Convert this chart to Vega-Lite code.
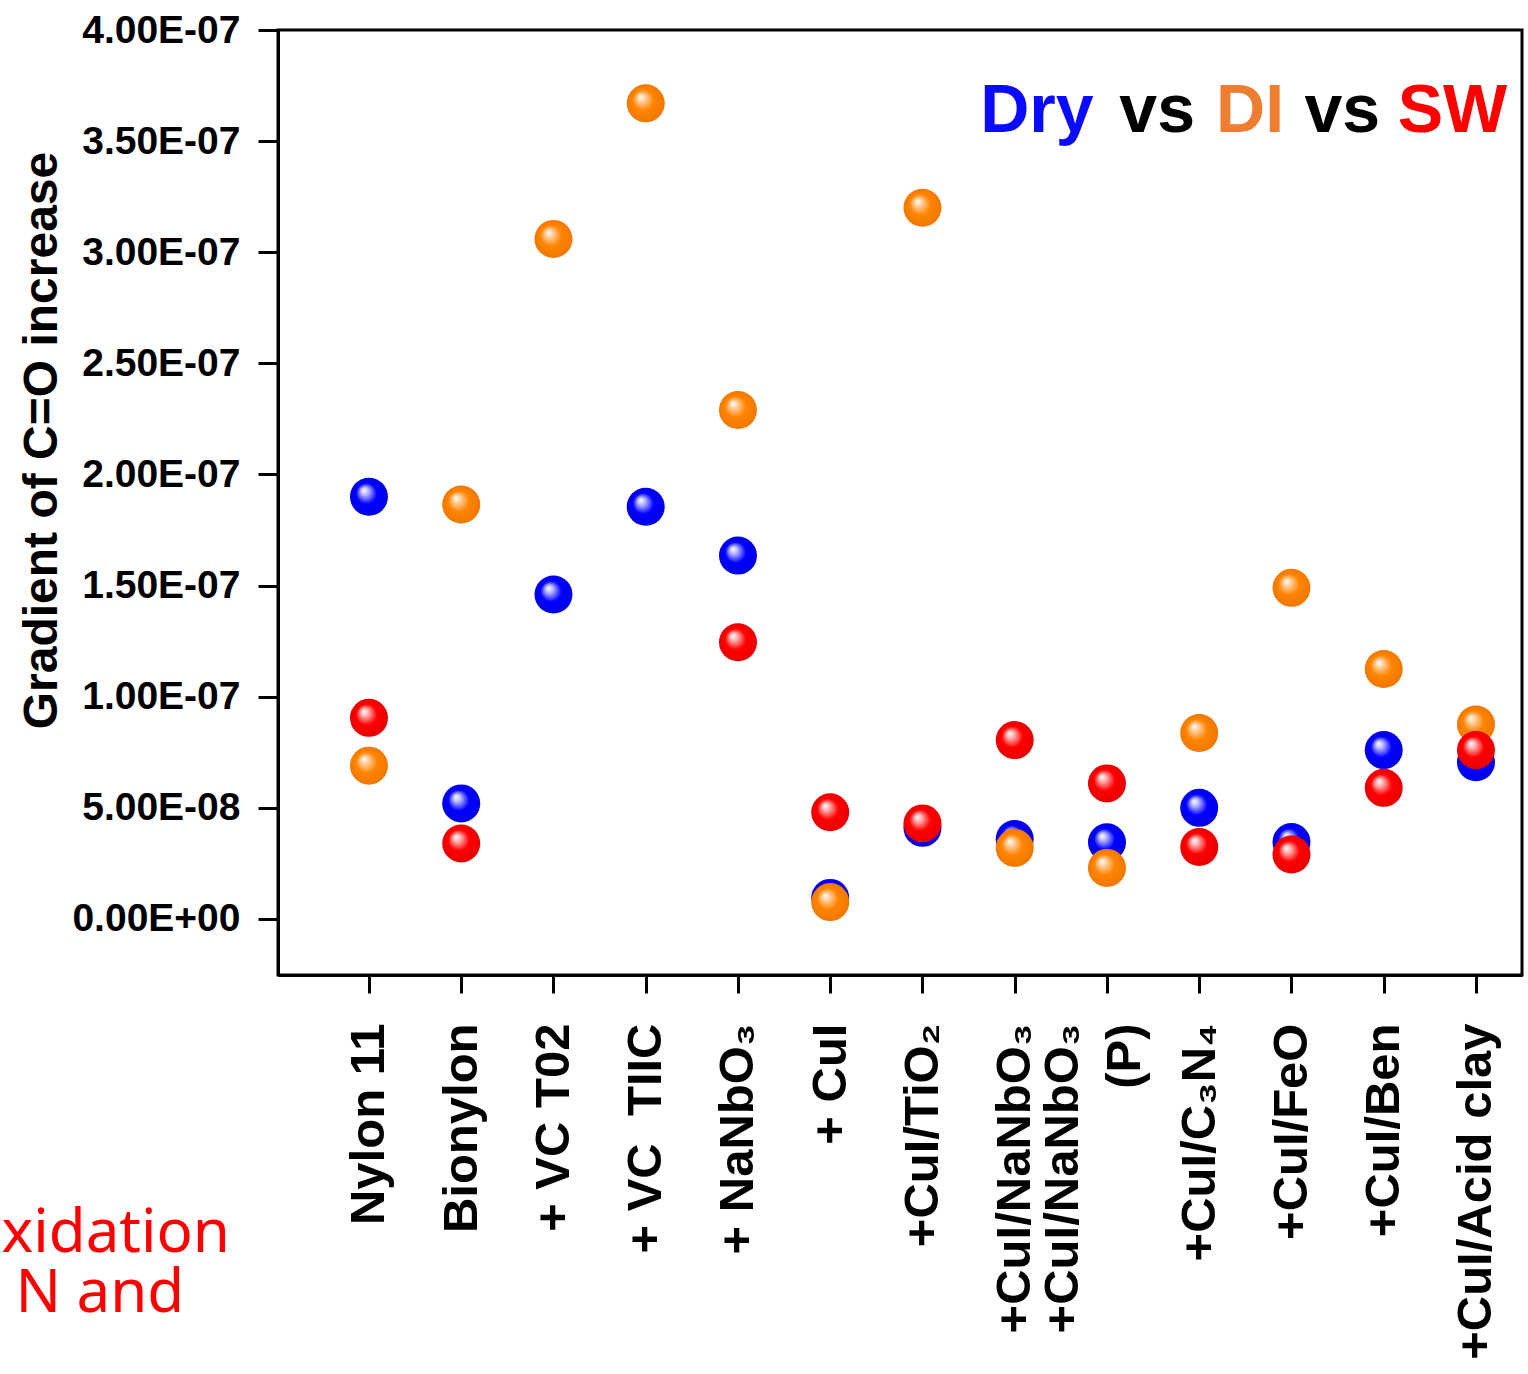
{
  "$schema": "https://vega.github.io/schema/vega-lite/v6.json",
  "autosize": {"type": "none"},
  "padding": {"left": 278, "top": 30, "right": 6, "bottom": 399},
  "width": 1244,
  "height": 945,
  "background": "white",
  "config": {
    "view": {"stroke": "black", "strokeWidth": 3},
    "axis": {
      "labelFont": "Liberation Sans",
      "labelFontWeight": "bold",
      "labelColor": "black",
      "titleFont": "Liberation Sans",
      "titleFontWeight": "bold",
      "titleColor": "black",
      "domainColor": "black",
      "domainWidth": 3,
      "tickColor": "black",
      "tickWidth": 3,
      "grid": false
    }
  },
  "data": {
    "values": [
      {"sample": "Nylon 11", "cond": "Dry", "value": 1.90e-7},
      {"sample": "Nylon 11", "cond": "DI", "value": 6.9e-8},
      {"sample": "Nylon 11", "cond": "SW", "value": 9.05e-8},
      {"sample": "Bionylon", "cond": "Dry", "value": 5.2e-8},
      {"sample": "Bionylon", "cond": "DI", "value": 1.865e-7},
      {"sample": "Bionylon", "cond": "SW", "value": 3.4e-8},
      {"sample": "+ VC T02", "cond": "Dry", "value": 1.46e-7},
      {"sample": "+ VC T02", "cond": "DI", "value": 3.06e-7},
      {"sample": "+ VC\u00a0 TIIC", "cond": "Dry", "value": 1.855e-7},
      {"sample": "+ VC\u00a0 TIIC", "cond": "DI", "value": 3.67e-7},
      {"sample": "+ NaNbO₃", "cond": "Dry", "value": 1.635e-7},
      {"sample": "+ NaNbO₃", "cond": "DI", "value": 2.29e-7},
      {"sample": "+ NaNbO₃", "cond": "SW", "value": 1.245e-7},
      {"sample": "+ CuI", "cond": "Dry", "value": 9.5e-9},
      {"sample": "+ CuI", "cond": "DI", "value": 7.6e-9},
      {"sample": "+ CuI", "cond": "SW", "value": 4.8e-8},
      {"sample": "+CuI/TiO₂", "cond": "Dry", "value": 4.1e-8},
      {"sample": "+CuI/TiO₂", "cond": "DI", "value": 3.2e-7},
      {"sample": "+CuI/TiO₂", "cond": "SW", "value": 4.3e-8},
      {"sample": "+CuI/NaNbO₃", "cond": "Dry", "value": 3.6e-8},
      {"sample": "+CuI/NaNbO₃", "cond": "DI", "value": 3.2e-8},
      {"sample": "+CuI/NaNbO₃", "cond": "SW", "value": 8.05e-8},
      {"sample": "+CuI/NaNbO₃ (P)", "cond": "Dry", "value": 3.45e-8},
      {"sample": "+CuI/NaNbO₃ (P)", "cond": "DI", "value": 2.3e-8},
      {"sample": "+CuI/NaNbO₃ (P)", "cond": "SW", "value": 6.1e-8},
      {"sample": "+CuI/C₃N₄", "cond": "Dry", "value": 5.0e-8},
      {"sample": "+CuI/C₃N₄", "cond": "DI", "value": 8.37e-8},
      {"sample": "+CuI/C₃N₄", "cond": "SW", "value": 3.24e-8},
      {"sample": "+CuI/FeO", "cond": "Dry", "value": 3.46e-8},
      {"sample": "+CuI/FeO", "cond": "DI", "value": 1.49e-7},
      {"sample": "+CuI/FeO", "cond": "SW", "value": 2.9e-8},
      {"sample": "+CuI/Ben", "cond": "Dry", "value": 7.6e-8},
      {"sample": "+CuI/Ben", "cond": "DI", "value": 1.125e-7},
      {"sample": "+CuI/Ben", "cond": "SW", "value": 5.9e-8},
      {"sample": "+CuI/Acid clay", "cond": "Dry", "value": 7.05e-8},
      {"sample": "+CuI/Acid clay", "cond": "DI", "value": 8.75e-8},
      {"sample": "+CuI/Acid clay", "cond": "SW", "value": 7.6e-8}
    ]
  },
  "layer": [
    {
      "encoding": {
        "x": {
          "field": "sample",
          "type": "nominal",
          "sort": null,
          "scale": {
            "type": "point",
            "domain": ["Nylon 11", "Bionylon", "+ VC T02", "+ VC\u00a0 TIIC", "+ NaNbO₃", "+ CuI", "+CuI/TiO₂", "+CuI/NaNbO₃", "+CuI/NaNbO₃ (P)", "+CuI/C₃N₄", "+CuI/FeO", "+CuI/Ben", "+CuI/Acid clay"],
            "padding": 0.7425,
            "align": 0.664,
            "round": false
          },
          "axis": {
            "title": null,
            "labelAngle": -90,
            "labelFontSize": 49,
            "labelPadding": 30,
            "labelLimit": 0,
            "labelLineHeight": 62,
            "labelOffset": {"condition": {"test": "datum.label == '+CuI/NaNbO₃ (P)'", "value": -44}, "value": 0},
            "tickSize": 18,
            "labelExpr": "datum.label == '+CuI/NaNbO₃ (P)' ? ['+CuI/NaNbO₃', '(P)'] : datum.label"
          }
        },
        "y": {
          "field": "value",
          "type": "quantitative",
          "scale": {"domain": [-2.52e-8, 4e-7], "nice": false, "zero": false},
          "axis": {
            "title": "Gradient of C=O increase",
            "titleFontSize": 48,
            "titlePadding": 12,
            "titleY": 410,
            "labelFontSize": 39,
            "labelPadding": 18,
            "tickSize": 20,
            "values": [0, 5e-8, 1e-7, 1.5e-7, 2e-7, 2.5e-7, 3e-7, 3.5e-7, 4e-7],
            "labelExpr": "datum.value == 0 ? '0.00E+00' : replace(upper(format(datum.value, '.2e')), 'E-', 'E-0')"
          }
        }
      },
      "layer": [
        {
          "transform": [{"filter": "datum.cond == 'Dry'"}],
          "mark": {
            "type": "circle", "size": 1444, "opacity": 1,
            "fill": {"gradient": "radial", "x1": 0.36, "y1": 0.32, "r1": 0, "x2": 0.5, "y2": 0.5, "r2": 0.5,
              "stops": [{"offset": 0, "color": "#ffffff"}, {"offset": 0.2, "color": "#b8b8ff"}, {"offset": 0.55, "color": "#0000ff"}, {"offset": 1, "color": "#0000e6"}]}
          }
        },
        {
          "transform": [{"filter": "datum.cond == 'DI'"}],
          "mark": {
            "type": "circle", "size": 1444, "opacity": 1,
            "fill": {"gradient": "radial", "x1": 0.36, "y1": 0.32, "r1": 0, "x2": 0.5, "y2": 0.5, "r2": 0.5,
              "stops": [{"offset": 0, "color": "#ffffff"}, {"offset": 0.2, "color": "#ffd0a0"}, {"offset": 0.55, "color": "#ff8400"}, {"offset": 1, "color": "#f07800"}]}
          }
        },
        {
          "transform": [{"filter": "datum.cond == 'SW'"}],
          "mark": {
            "type": "circle", "size": 1444, "opacity": 1,
            "fill": {"gradient": "radial", "x1": 0.36, "y1": 0.32, "r1": 0, "x2": 0.5, "y2": 0.5, "r2": 0.5,
              "stops": [{"offset": 0, "color": "#ffffff"}, {"offset": 0.2, "color": "#ffb0b0"}, {"offset": 0.55, "color": "#ff0000"}, {"offset": 1, "color": "#e80000"}]}
          }
        }
      ]
    },
    {
      "data": {"values": [{}]},
      "layer": [
        {
          "mark": {"type": "text", "text": "Dry", "color": "#0a0aff", "font": "Liberation Sans", "fontWeight": "bold", "fontSize": 68, "align": "left", "baseline": "alphabetic"},
          "encoding": {
            "x": {"datum": 7.62, "type": "quantitative", "scale": {"domain": [0, 13.5], "nice": false, "zero": false}, "axis": null},
            "y": {"datum": 3.54e-7, "type": "quantitative"}
          }
        },
        {
          "mark": {"type": "text", "text": "vs", "color": "black", "font": "Liberation Sans", "fontWeight": "bold", "fontSize": 68, "align": "left", "baseline": "alphabetic"},
          "encoding": {
            "x": {"datum": 9.13, "type": "quantitative"},
            "y": {"datum": 3.54e-7, "type": "quantitative"}
          }
        },
        {
          "mark": {"type": "text", "text": "DI", "color": "#ed7d31", "font": "Liberation Sans", "fontWeight": "bold", "fontSize": 68, "align": "left", "baseline": "alphabetic"},
          "encoding": {
            "x": {"datum": 10.18, "type": "quantitative"},
            "y": {"datum": 3.54e-7, "type": "quantitative"}
          }
        },
        {
          "mark": {"type": "text", "text": "vs", "color": "black", "font": "Liberation Sans", "fontWeight": "bold", "fontSize": 68, "align": "left", "baseline": "alphabetic"},
          "encoding": {
            "x": {"datum": 11.14, "type": "quantitative"},
            "y": {"datum": 3.54e-7, "type": "quantitative"}
          }
        },
        {
          "mark": {"type": "text", "text": "SW", "color": "#ff0000", "font": "Liberation Sans", "fontWeight": "bold", "fontSize": 68, "align": "right", "baseline": "alphabetic"},
          "encoding": {
            "x": {"datum": 13.34, "type": "quantitative"},
            "y": {"datum": 3.54e-7, "type": "quantitative"}
          }
        },
        {
          "mark": {"type": "text", "text": "xidation", "color": "#ff0000", "font": "Noto Sans", "fontSize": 60, "align": "left", "baseline": "alphabetic"},
          "encoding": {
            "x": {"datum": -3.0, "type": "quantitative"},
            "y": {"datum": -1.5e-7, "type": "quantitative"}
          }
        },
        {
          "mark": {"type": "text", "text": "N and", "color": "#ff0000", "font": "Noto Sans", "fontSize": 60, "align": "left", "baseline": "alphabetic"},
          "encoding": {
            "x": {"datum": -2.85, "type": "quantitative"},
            "y": {"datum": -1.77e-7, "type": "quantitative"}
          }
        }
      ]
    }
  ],
  "resolve": {"scale": {"x": "independent"}, "axis": {"x": "independent"}}
}
